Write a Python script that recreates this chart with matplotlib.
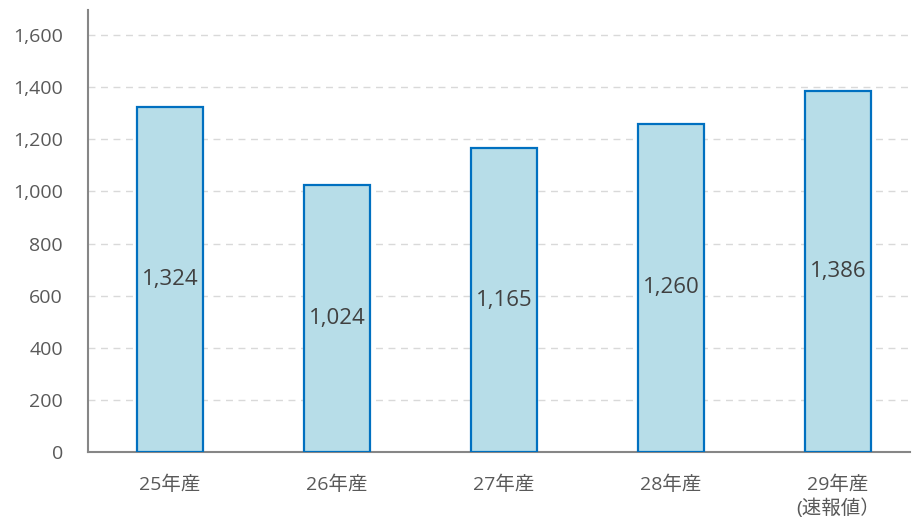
import matplotlib
matplotlib.use("Agg")
import matplotlib.pyplot as plt
from matplotlib.ticker import FuncFormatter

plt.rcParams['font.family'] = ['Open Sans', 'Noto Sans CJK JP', 'DejaVu Sans']

categories = ["25年産", "26年産", "27年産", "28年産", "29年産\n(速報値）"]
values = [1324, 1024, 1165, 1260, 1386]
yticks = [0, 200, 400, 600, 800, 1000, 1200, 1400, 1600]

fig = plt.figure(figsize=(9.13, 5.26), dpi=100)
ax = fig.add_axes([88 / 913, (526 - 452) / 526, (910 - 88) / 913, (452 - 10) / 526])

x = list(range(len(categories)))
bars = ax.bar(x, values, width=0.395, color="#b7dde8", edgecolor="#0070c0",
              linewidth=1.6, zorder=3)

for xi, v in zip(x, values):
    ax.text(xi, v / 2, f"{v:,}", ha="center", va="center", fontsize=16,
            color="#404040", zorder=4)

ax.set_xlim(-0.491, 4.431)
ax.set_ylim(0, 1696)
ax.set_yticks(yticks)
ax.yaxis.set_major_formatter(FuncFormatter(lambda v, p: f"{int(v):,}"))
ax.set_xticks(x)
ax.set_xticklabels(categories, linespacing=1.3, fontsize=14)
ax.tick_params(axis="both", length=0, colors="#595959")
ax.tick_params(axis="y", labelsize=14, pad=18)
ax.tick_params(axis="x", pad=17)

ax.grid(axis="y", linestyle=(0, (5, 4)), color="#d9d9d9", linewidth=1, zorder=0)
for s in ["top", "right"]:
    ax.spines[s].set_visible(False)
for s in ["left", "bottom"]:
    ax.spines[s].set_color("#868686")
    ax.spines[s].set_linewidth(1.5)

fig.savefig("out.png", dpi=100)
